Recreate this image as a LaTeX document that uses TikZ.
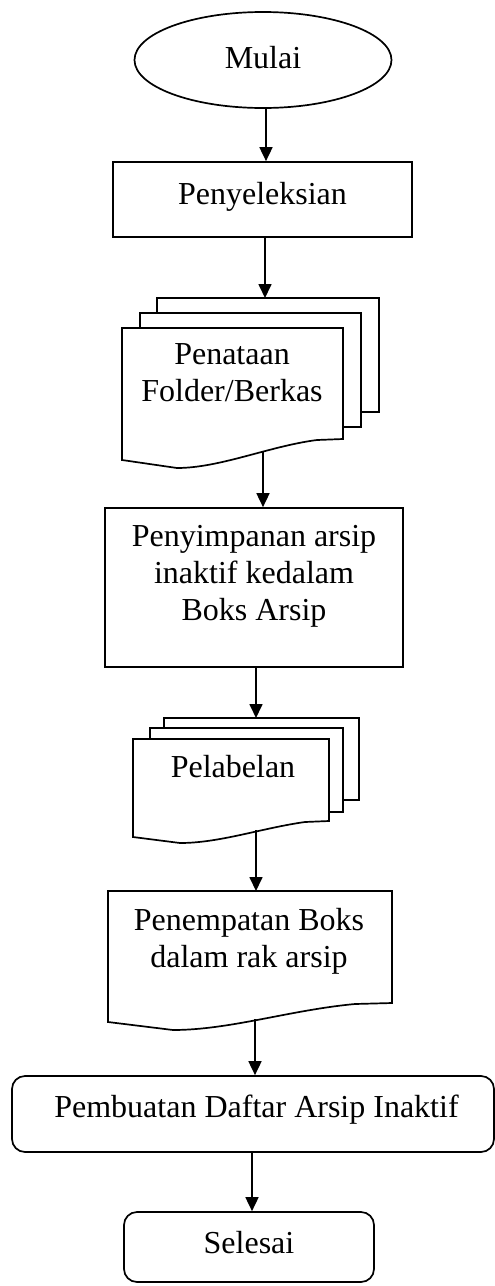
\documentclass[tikz,border=0pt]{standalone}
\usepackage{fontspec}
\setmainfont{Liberation Serif}
\usetikzlibrary{arrows.meta,shapes.geometric}
\begin{document}
\begin{tikzpicture}[x=1pt,y=-1pt,
  every node/.style={font=\fontsize{32}{37}\selectfont, align=center, inner sep=0pt},
  sheet/.style={line width=1.7pt, fill=white, line join=miter},
  flow/.style={line width=1.7pt, -{Triangle[length=14pt,width=13pt]}},
  boxrect/.style={draw, line width=1.7pt, rectangle},
  roundbox/.style={draw, line width=1.7pt, rectangle, rounded corners=13pt}
]
\useasboundingbox (0,0) rectangle (495,1286);

% Mulai
\node[draw, line width=1.7pt, ellipse, minimum width=257pt, minimum height=96pt] (mulai) at (263,60) {};
\node (mulaitxt) at (263,58) {Mulai};

% Penyeleksian
\node[boxrect, minimum width=299pt, minimum height=75pt] (seleksi) at (262.5,199.5) {};
\node (seleksitxt) at (262.5,197) {Penyeleksian};

% Penataan (multi-document)
\draw[sheet] (157,330) -- (157,298) -- (379,298) -- (379,412) -- (350,412);
\draw[sheet] (140,340) -- (140,313) -- (361,313) -- (361,427) -- (340,427);
\draw[sheet] (122,328) -- (343,328) -- (343,439) -- (317,440)
  .. controls (270,446) and (220,468) .. (177,468) -- (122,460) -- cycle;
\coordinate (tataTop) at (265,298);
\coordinate (tataBot) at (263,451);
\node (tata) at (232,373) {Penataan\\Folder/Berkas};

% Penyimpanan
\node[boxrect, minimum width=298pt, minimum height=159pt] (simpan) at (254,587.5) {};
\node (simpantxt) at (254,576) {Penyimpanan arsip\\inaktif kedalam\\Boks Arsip};

% Pelabelan (multi-document)
\draw[sheet] (164,740) -- (164,718) -- (359,718) -- (359,800) -- (340,800);
\draw[sheet] (150,750) -- (150,728) -- (343,728) -- (343,812) -- (325,812);
\draw[sheet] (133,739) -- (329,739) -- (329,821) -- (305,822)
  .. controls (262,828) and (220,843) .. (180,843) -- (133,837) -- cycle;
\coordinate (labelTop) at (256,718);
\coordinate (labelBot) at (256,830);
\node (label) at (233,767) {Pelabelan};

% Penempatan (document)
\draw[sheet] (108,891) -- (392,891) -- (392,1003) -- (355,1004)
  .. controls (290,1010) and (230,1030) .. (173,1030) -- (108,1022) -- cycle;
\coordinate (tempatTop) at (256,891);
\coordinate (tempatBot) at (255,1019);
\node (tempat) at (249,941) {Penempatan Boks\\dalam rak arsip};

% Pembuatan Daftar
\node[roundbox, minimum width=482pt, minimum height=76pt] (daftar) at (253,1114) {};
\node (daftartxt) at (256.5,1110) {Pembuatan Daftar Arsip Inaktif};

% Selesai
\node[roundbox, minimum width=250pt, minimum height=70pt] (selesai) at (249,1247) {};
\node (selesaitxt) at (249,1243) {Selesai};

% connectors
\draw[flow] (mulai.south -| seleksi.north) ++(3.5,0) coordinate (m1) -- (m1 |- seleksi.north);
\draw[flow] (seleksi.south) ++(2.5,0) coordinate (s1) -- (s1 |- tataTop);
\draw[flow] (tataBot) -- (tataBot |- simpan.north);
\draw[flow] (simpan.south) ++(2,0) coordinate (p1) -- (p1 |- labelTop);
\draw[flow] (labelBot) -- (labelBot |- tempatTop);
\draw[flow] (tempatBot) -- (tempatBot |- daftar.north);
\draw[flow] (252,1152) coordinate (d1) -- (d1 |- selesai.north);
\end{tikzpicture}
\end{document}
